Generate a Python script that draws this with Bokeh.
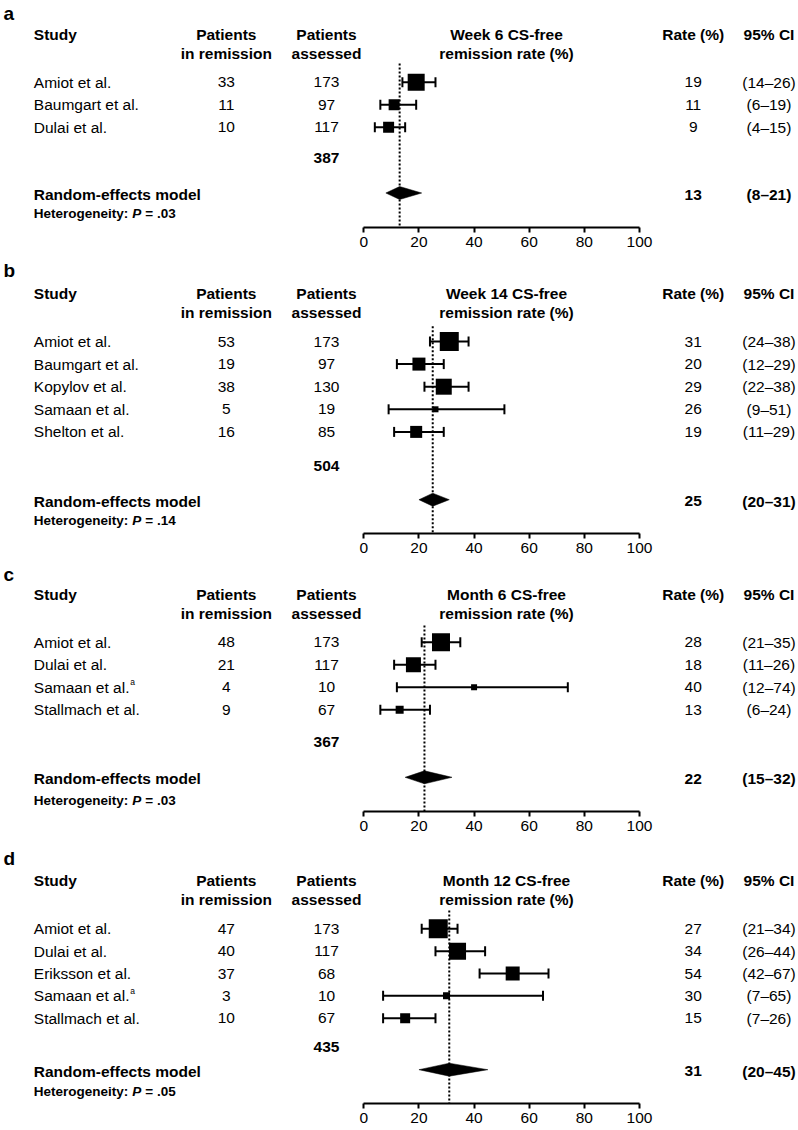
from bokeh.plotting import figure
from bokeh.layouts import column
from bokeh.models import ColumnDataSource, Range1d, LinearAxis, FixedTicker, Whisker, TeeHead
from bokeh.core.properties import value
from bokeh.embed import file_html
from bokeh.resources import INLINE

FONT = "Liberation Sans"

# ---------------- data ----------------
a_title = ["Week 6 CS-free", "remission rate (%)"]
a_study = ["Amiot et al.", "Baumgart et al.", "Dulai et al."]
a_note = ["", "", ""]
a_remission = [33, 11, 10]
a_assessed = [173, 97, 117]
a_rate = [19, 11, 9]
a_lo = [14, 6, 4]
a_hi = [26, 19, 15]
a_weight = [17, 11, 11]
a_total = 387
a_pooled = [13, 8, 21]
a_p = ".03"

b_title = ["Week 14 CS-free", "remission rate (%)"]
b_study = ["Amiot et al.", "Baumgart et al.", "Kopylov et al.", "Samaan et al.", "Shelton et al."]
b_note = ["", "", "", "", ""]
b_remission = [53, 19, 38, 5, 16]
b_assessed = [173, 97, 130, 19, 85]
b_rate = [31, 20, 29, 26, 19]
b_lo = [24, 12, 22, 9, 11]
b_hi = [38, 29, 38, 51, 29]
b_weight = [19, 13, 16, 6, 12]
b_total = 504
b_pooled = [25, 20, 31]
b_p = ".14"

c_title = ["Month 6 CS-free", "remission rate (%)"]
c_study = ["Amiot et al.", "Dulai et al.", "Samaan et al.", "Stallmach et al."]
c_note = ["", "", "a", ""]
c_remission = [48, 21, 4, 9]
c_assessed = [173, 117, 10, 67]
c_rate = [28, 18, 40, 13]
c_lo = [21, 11, 12, 6]
c_hi = [35, 26, 74, 24]
c_weight = [18, 15, 6, 8]
c_total = 367
c_pooled = [22, 15, 32]
c_p = ".03"

d_title = ["Month 12 CS-free", "remission rate (%)"]
d_study = ["Amiot et al.", "Dulai et al.", "Eriksson et al.", "Samaan et al.", "Stallmach et al."]
d_note = ["", "", "", "a", ""]
d_remission = [47, 40, 37, 3, 10]
d_assessed = [173, 117, 68, 10, 67]
d_rate = [27, 34, 54, 30, 15]
d_lo = [21, 26, 42, 7, 7]
d_hi = [34, 44, 67, 65, 26]
d_weight = [19, 17, 14, 7, 10]
d_total = 435
d_pooled = [31, 20, 45]
d_p = ".05"

ticks = [0, 20, 40, 60, 80, 100]

# ---------------- layout ----------------
X0, K = 363.3, 2.757          # page px of x=0, px per unit
W = 798


def px(v):
    return (v - X0) / K


COL = dict(label=3, study=33.3, rem=225.8, ass=326, title=506, rate=692.7, ci=768.5)
LAYOUT = {
    "a": dict(label=13, h1=33.5, h2=52.7, row0=81.7, step=22.5, total=157.7, re=194, het=212.7, dot=63, frame=227),
    "b": dict(label=17, h1=40.3, h2=59.3, row0=88, step=22.6, total=212, re=247.7, het=267, dot=72.7, frame=280),
    "c": dict(label=15, h1=35.3, h2=54.3, row0=82.7, step=22.5, total=182.7, re=219.3, het=241, dot=66, frame=252),
    "d": dict(label=21, h1=43, h2=62, row0=91.3, step=22.35, total=209.7, re=233.7, het=253.7, dot=73, frame=266),
}
BOTTOM = 26
FS = "15.5px"


def txt(p, x, y, s, size=FS, style="normal", align="left", **kw):
    p.text(x=x if isinstance(x, list) else [x], y=y if isinstance(y, list) else [y],
           text=s if isinstance(s, list) else [s],
           text_font=value(FONT), text_font_size=size, text_font_style=style,
           text_align=align, text_baseline="middle", text_color="#000000", **kw)


def panel(letter, title, study, note, rem, ass, rate, lo, hi, weight, total, pooled, pval, bottom=BOTTOM):
    L = LAYOUT[letter]
    fh = L["frame"]
    p = figure(width=W, height=fh + bottom,
               x_range=Range1d(px(0), px(W)), y_range=Range1d(fh, 0),
               output_backend="svg", toolbar_location=None,
               min_border=0, min_border_bottom=bottom,
               x_axis_location=None, y_axis_location=None,
               outline_line_color=None, background_fill_color="white", border_fill_color="white")
    p.grid.visible = False

    ax = LinearAxis(bounds=(0, 100), ticker=FixedTicker(ticks=ticks))
    ax.axis_line_width = 2
    ax.axis_line_color = "black"
    ax.major_tick_line_width = 2
    ax.major_tick_line_color = "black"
    ax.major_tick_out = 5
    ax.major_tick_in = 0
    ax.minor_tick_out = 0
    ax.minor_tick_in = 0
    ax.major_label_text_font = FONT
    ax.major_label_text_font_size = FS
    ax.major_label_text_color = "black"
    ax.major_label_standoff = 4
    p.add_layout(ax, "below")

    n = len(study)
    ys = [L["row0"] + i * L["step"] for i in range(n)]

    # panel letter and headers
    txt(p, px(COL["label"]), L["label"], letter, size="19px", style="bold")
    txt(p, px(COL["study"]), L["h1"], "Study", style="bold")
    txt(p, px(COL["rem"]), L["h1"], "Patients", style="bold", align="center")
    txt(p, px(COL["rem"]), L["h2"], "in remission", style="bold", align="center")
    txt(p, px(COL["ass"]), L["h1"], "Patients", style="bold", align="center")
    txt(p, px(COL["ass"]), L["h2"], "assessed", style="bold", align="center")
    txt(p, px(COL["title"]), L["h1"], title[0], style="bold", align="center")
    txt(p, px(COL["title"]), L["h2"], title[1], style="bold", align="center")
    txt(p, px(COL["rate"]), L["h1"], "Rate (%)", style="bold", align="center")
    txt(p, px(COL["ci"]), L["h1"], "95% CI", style="bold", align="center")

    # study rows
    txt(p, [px(COL["study"])] * n, ys, study)
    for i in range(n):
        if note[i]:
            txt(p, px(COL["study"]), ys[i], note[i], size="8.5px", x_offset=96.5, y_offset=-5)
    txt(p, [px(COL["rem"])] * n, ys, [str(v) for v in rem], align="center")
    txt(p, [px(COL["ass"])] * n, ys, [str(v) for v in ass], align="center")
    txt(p, [px(COL["rate"])] * n, ys, [str(v) for v in rate], align="center")
    txt(p, [px(COL["ci"])] * n, ys, [f"({a}\u2013{b})" for a, b in zip(lo, hi)], align="center")

    # totals and pooled
    txt(p, px(COL["ass"]), L["total"], str(total), style="bold", align="center")
    txt(p, px(COL["study"]), L["re"], "Random-effects model", style="bold")
    txt(p, px(COL["rate"]), L["re"], str(pooled[0]), style="bold", align="center")
    txt(p, px(COL["ci"]), L["re"], f"({pooled[1]}\u2013{pooled[2]})", style="bold", align="center")
    txt(p, px(COL["study"]), L["het"], "Heterogeneity:", size="13.5px", style="bold")
    txt(p, px(COL["study"]), L["het"], "P", size="13.5px", style="bold italic", x_offset=98.5)
    txt(p, px(COL["study"]), L["het"], "= " + pval, size="13.5px", style="bold", x_offset=111.5)

    # dotted reference line at pooled estimate
    p.segment(x0=[pooled[0]], y0=[L["dot"]], x1=[pooled[0]], y1=[fh],
              line_color="black", line_width=2, line_dash="2 2")

    # CI whiskers
    src = ColumnDataSource(dict(y=ys, lo=lo, hi=hi, rate=rate, w=weight))
    wh = Whisker(base="y", lower="lo", upper="hi", dimension="width", source=src,
                 line_color="black", line_width=2,
                 lower_head=TeeHead(size=10, line_width=2, line_color="black"),
                 upper_head=TeeHead(size=10, line_width=2, line_color="black"))
    p.add_layout(wh)

    # weighted squares
    p.scatter(x="rate", y="y", size="w", marker="square", source=src,
              fill_color="black", line_color="black", line_width=0)

    # pooled diamond
    dy = L["re"] - 1.5
    p.patch(x=[pooled[1], pooled[0], pooled[2], pooled[0]],
            y=[dy, dy - 6.5, dy, dy + 6.5], fill_color="black", line_color="black", line_width=0.5)
    return p


figs = [
    panel("a", a_title, a_study, a_note, a_remission, a_assessed, a_rate, a_lo, a_hi, a_weight, a_total, a_pooled, a_p),
    panel("b", b_title, b_study, b_note, b_remission, b_assessed, b_rate, b_lo, b_hi, b_weight, b_total, b_pooled, b_p),
    panel("c", c_title, c_study, c_note, c_remission, c_assessed, c_rate, c_lo, c_hi, c_weight, c_total, c_pooled, c_p),
    panel("d", d_title, d_study, d_note, d_remission, d_assessed, d_rate, d_lo, d_hi, d_weight, d_total, d_pooled, d_p,
          bottom=27),
]

layout = column(*figs, spacing=0)
open("out.html", "w").write(file_html(layout, INLINE))
